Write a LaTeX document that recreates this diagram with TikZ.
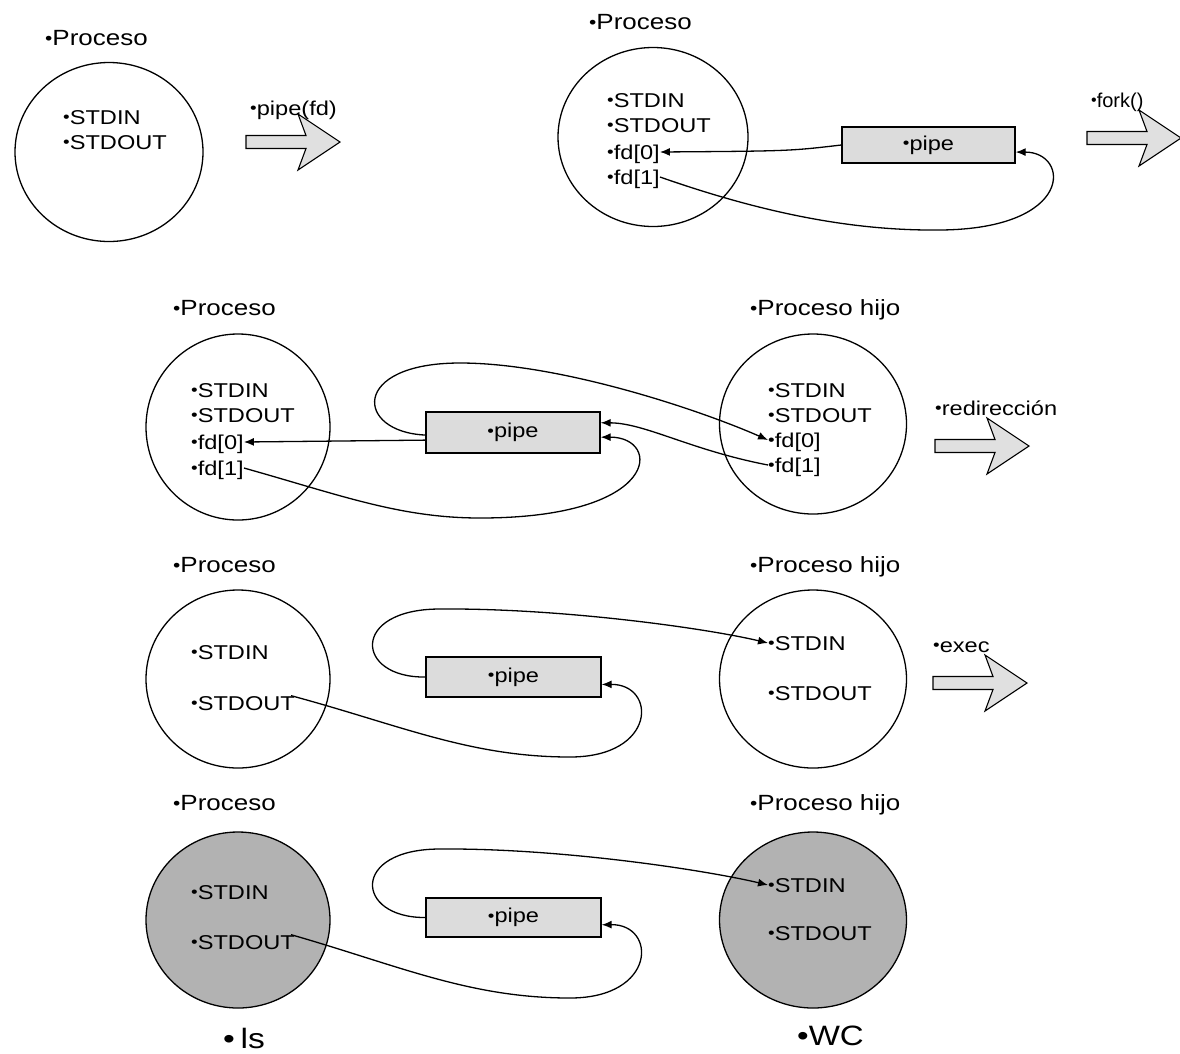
\documentclass[tikz,border=0pt]{standalone}
\usepackage{fontspec}
\setmainfont{Liberation Sans}
\usepackage{graphicx}
\usetikzlibrary{shapes.geometric,arrows.meta,calc}
\newcommand{\sx}[1]{\scalebox{1.18}[1]{#1}}
\newcommand{\bul}{\raisebox{0.06em}{\scalebox{0.8}{\textbullet}}}
\definecolor{pipefill}{HTML}{DCDCDC}
\definecolor{arrowfill}{HTML}{E0E0E0}
\definecolor{procfill}{HTML}{B2B2B2}
\tikzset{
 proc/.style={ellipse, draw, line width=1.3pt, inner sep=0pt},
 txt/.style={inner sep=0pt, anchor=west, text height=14.3pt, text depth=0pt, font=\fontsize{20}{24}\selectfont},
 lbl/.style={inner sep=0pt, anchor=west, text height=15.8pt, text depth=0pt, font=\fontsize{22}{26}\selectfont},
 big/.style={inner sep=0pt, anchor=west, text height=20pt, text depth=0pt, font=\fontsize{28}{32}\selectfont},
 pipebox/.style={draw, fill=pipefill, line width=1.3pt, inner sep=0pt, font=\fontsize{20}{24}\selectfont},
 conn/.style={line width=1.3pt},
 arr/.style={-{Latex[length=10pt,width=8pt]}},
 bigarrow/.pic={\draw[line width=1.1pt, fill=arrowfill, line join=miter] (0,-6.5) -- (60,-6.5) -- (52,-28) -- (94,0) -- (52,28) -- (60,6.5) -- (0,6.5) -- cycle;}
}
\begin{document}
\begin{tikzpicture}[x=1pt,y=-1pt]
\useasboundingbox (0,0) rectangle (1180,1053);

% ---------- Row 1 left ----------
\node[lbl] (tA) at (45,38) {\sx{\bul Proceso}};
\node[proc, minimum width=188pt, minimum height=179pt] (A) at (109,152) {};
\node[txt] (Ain) at (63,117) {\sx{\bul STDIN}};
\node[txt] (Aout) at (63,142) {\sx{\bul STDOUT}};
\pic at (246,142) {bigarrow};
\node[txt] (aA) at (250,108) {\sx{\bul pipe(fd)}};

% ---------- Row 1 right ----------
\node[lbl] (tB) at (589,22) {\sx{\bul Proceso}};
\node[proc, minimum width=190pt, minimum height=179pt] (B) at (653,137) {};
\node[txt] (Bin) at (607,100) {\sx{\bul STDIN}};
\node[txt] (Bout) at (607,125) {\sx{\bul STDOUT}};
\node[txt] (Bfd0) at (607,152) {\sx{\bul fd[0]}};
\node[txt] (Bfd1) at (607,177) {\sx{\bul fd[1]}};
\node[pipebox, minimum width=173pt, minimum height=36pt] (pipe1) at (928.5,145) {\sx{\bul pipe}};
\draw[conn, arr] (pipe1.west) .. controls (790,151) .. (Bfd0.east);
\draw[conn, arr] (Bfd1.east) .. controls (760,212) and (850,231) .. (940,230)
  .. controls (1075,229) and (1070,152) .. ($(pipe1.north east)!0.69!(pipe1.south east)$);
\pic at (1087,138) {bigarrow};
\node[txt] (aB) at (1091,100) {\bul fork()};

% ---------- Row 2 ----------
\node[lbl] (tC) at (173,308) {\sx{\bul Proceso}};
\node[lbl] (tD) at (750,308) {\sx{\bul Proceso hijo}};
\node[proc, minimum width=184pt, minimum height=186pt] (C) at (238,427) {};
\node[proc, minimum width=187pt, minimum height=180pt] (D) at (813,424) {};
\node[txt] (Cin) at (191,390) {\sx{\bul STDIN}};
\node[txt] (Cout) at (191,415) {\sx{\bul STDOUT}};
\node[txt] (Cfd0) at (191,442) {\sx{\bul fd[0]}};
\node[txt] (Cfd1) at (191,468) {\sx{\bul fd[1]}};
\node[txt] (Din) at (768,390) {\sx{\bul STDIN}};
\node[txt] (Dout) at (768,415) {\sx{\bul STDOUT}};
\node[txt] (Dfd0) at (768,440) {\sx{\bul fd[0]}};
\node[txt] (Dfd1) at (768,465) {\sx{\bul fd[1]}};
\node[pipebox, minimum width=174pt, minimum height=41pt] (pipe2) at (513,432.5) {\sx{\bul pipe}};
\draw[conn, arr] ($(pipe2.north west)!0.68!(pipe2.south west)$) -- (Cfd0.east);
\draw[conn, arr] ($(pipe2.north west)!0.56!(pipe2.south west)$) .. controls (355,432) and (350,363) .. (460,363)
  .. controls (560,363) and (700,410) .. (Dfd0.west);
\draw[conn, arr] (Dfd1.west) .. controls (690,450) and (645,423) .. ($(pipe2.north east)!0.27!(pipe2.south east)$);
\draw[conn, arr] (Cfd1.east) .. controls (340,495) and (400,518) .. (480,518)
  .. controls (662,518) and (662,437) .. ($(pipe2.north east)!0.61!(pipe2.south east)$);
\pic at (935,446) {bigarrow};
\node[txt] (aD) at (935,408) {\sx{\bul redirección}};

% ---------- Row 3 ----------
\node[lbl] (tE) at (173,565) {\sx{\bul Proceso}};
\node[lbl] (tF) at (750,565) {\sx{\bul Proceso hijo}};
\node[proc, minimum width=184pt, minimum height=178pt] (E) at (238,679) {};
\node[proc, minimum width=187pt, minimum height=178pt] (F) at (813,679) {};
\node[txt] (Ein) at (191,652) {\sx{\bul STDIN}};
\node[txt] (Eout) at (191,703) {\sx{\bul STDOUT}};
\node[txt] (Fin) at (768,643) {\sx{\bul STDIN}};
\node[txt] (Fout) at (768,693) {\sx{\bul STDOUT}};
\node[pipebox, minimum width=175pt, minimum height=40pt] (pipe3) at (513.5,677) {\sx{\bul pipe}};
\draw[conn, arr] (pipe3.west) .. controls (355,678) and (350,609) .. (440,609)
  .. controls (560,608) and (705,628) .. (Fin.west);
\draw[conn, arr] ($(Eout.north east)+(-4,0)$) .. controls (400,725) and (470,757) .. (570,757)
  .. controls (657,757) and (657,684) .. ($(pipe3.north east)!0.68!(pipe3.south east)$);
\pic at (933,683) {bigarrow};
\node[txt] (aF) at (933,645) {\sx{\bul exec}};

% ---------- Row 4 ----------
\node[lbl] (tG) at (173,803) {\sx{\bul Proceso}};
\node[lbl] (tH) at (750,803) {\sx{\bul Proceso hijo}};
\node[proc, fill=procfill, minimum width=184pt, minimum height=176pt] (G) at (238,920) {};
\node[proc, fill=procfill, minimum width=187pt, minimum height=176pt] (H) at (813,920) {};
\node[txt] (Gin) at (191,892) {\sx{\bul STDIN}};
\node[txt] (Gout) at (191,942) {\sx{\bul STDOUT}};
\node[txt] (Hin) at (768,885) {\sx{\bul STDIN}};
\node[txt] (Hout) at (768,933) {\sx{\bul STDOUT}};
\node[pipebox, minimum width=175pt, minimum height=39pt] (pipe4) at (513.5,917.5) {\sx{\bul pipe}};
\draw[conn, arr] (pipe4.west) .. controls (355,918) and (350,849) .. (440,849)
  .. controls (560,848) and (705,870) .. (Hin.west);
\draw[conn, arr] ($(Gout.north east)+(-4,0)$) .. controls (400,966) and (470,998) .. (570,998)
  .. controls (657,998) and (657,924) .. ($(pipe4.north east)!0.68!(pipe4.south east)$);
\node[big] (ls) at (223,1038) {\scalebox{1.2}[1]{\textbullet\,ls}};
\node[big] (wc) at (797,1035) {\sx{\textbullet WC}};
\end{tikzpicture}
\end{document}
